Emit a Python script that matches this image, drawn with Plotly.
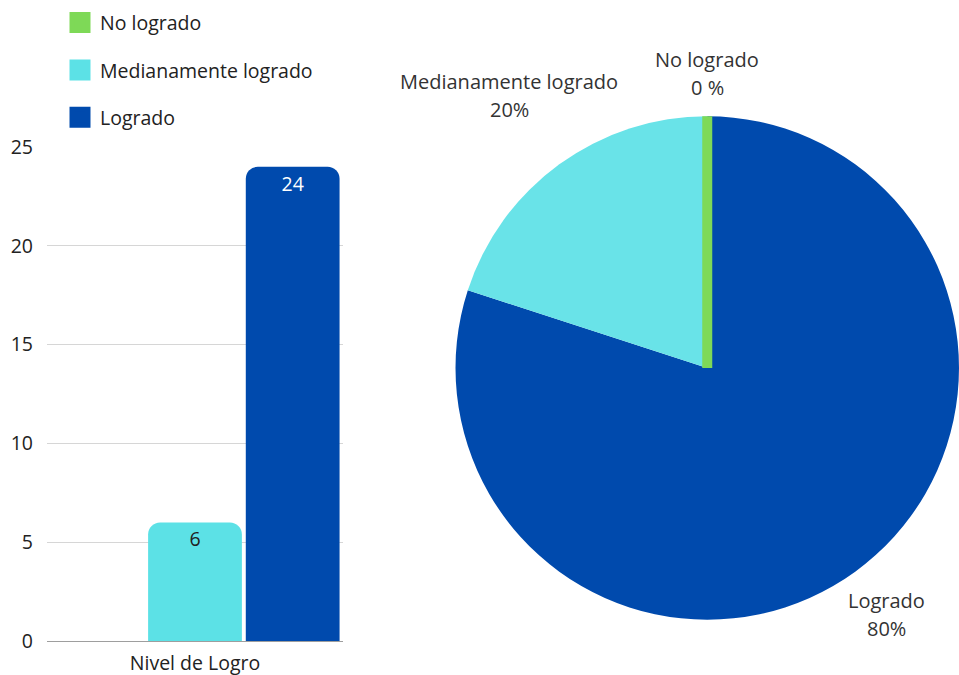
import math
import plotly.graph_objects as go

categories = ["No logrado", "Medianamente logrado", "Logrado"]
counts = [0, 6, 24]
pie_texts = ["0 %", "20%", "80%"]
group_label = ["Nivel de Logro"]
y_ticks = [0, 5, 10, 15, 20, 25]

bar_colors = ["#7ED957", "#5CE1E6", "#004AAD"]
pie_colors = ["#7ED957", "#69E3E8", "#004AAD"]
bar_text_colors = ["#222222", "#222222", "#FFFFFF"]

FONT = "Open Sans"
FS = 19.5
W, H = 959, 675

fig = go.Figure()

# visible rounded bars
for i, (cat, val) in enumerate(zip(categories, counts)):
    fig.add_trace(go.Bar(
        x=group_label, y=[val], name=cat,
        marker=dict(color=bar_colors[i], line=dict(width=0), cornerradius=12),
        offsetgroup=str(i), alignmentgroup="a",
        showlegend=False, hoverinfo="x+y+name",
    ))
# value labels (square-cornered transparent overlay so labels sit close to the top)
for i, (cat, val) in enumerate(zip(categories, counts)):
    fig.add_trace(go.Bar(
        x=group_label, y=[val], name=cat,
        marker=dict(color="rgba(0,0,0,0)", line=dict(width=0), cornerradius=0),
        offsetgroup=str(i), alignmentgroup="a",
        text=[str(val) if val > 0 else ""],
        textposition="inside", insidetextanchor="end",
        textfont=dict(family=FONT, size=FS, color=bar_text_colors[i]),
        showlegend=False, hoverinfo="skip",
    ))
# legend entries
for i, cat in enumerate(categories):
    fig.add_trace(go.Scatter(
        x=[None], y=[None], mode="markers", name=cat, legendgroup=cat,
        marker=dict(symbol="square", size=16, color=bar_colors[i],
                    line=dict(color=bar_colors[i], width=5)),
    ))

# pie: clockwise from 12 o'clock, Logrado first, zero slice last (drawn on top)
order = [2, 1, 0]
pie_x = [455.5 / W, 1.0]
pie_y = [(H - 620) / H, (H - 116) / H]
fig.add_trace(go.Pie(
    labels=[categories[k] for k in order],
    values=[counts[k] for k in order],
    textinfo="none",
    marker=dict(colors=[pie_colors[k] for k in order],
                line=dict(color=[pie_colors[k] for k in order],
                          width=[0, 0, 10])),
    sort=False, direction="clockwise", rotation=0,
    showlegend=False,
    domain=dict(x=pie_x, y=pie_y),
))

# outside labels for the pie, placed along each slice's mid angle
pw = (pie_x[1] - pie_x[0]) * W
ph = (pie_y[1] - pie_y[0]) * H
r = min(pw, ph) / 2
cx = pie_x[0] * W + pw / 2
cy = H - (pie_y[0] * H + ph / 2)
total = sum(counts)
cum = 0
for k in order:
    v = counts[k]
    theta = 2 * math.pi * (cum + v / 2) / total
    cum += v
    dx, dy = math.sin(theta), -math.cos(theta)
    hw = max(len(categories[k]), len(pie_texts[k])) * 8.4 / 2
    hh = 39
    dist = r + 4 + abs(dx) * hw + abs(dy) * hh
    px, py = cx + dist * dx, cy + dist * dy
    for txt, shift in ((categories[k], 14), (pie_texts[k], -14)):
        fig.add_annotation(
            x=px / W, y=1 - py / H, xref="paper", yref="paper",
            text=txt, showarrow=False, xanchor="center", yanchor="middle",
            yshift=shift, font=dict(family=FONT, size=20, color="#333333"),
        )

fig.update_layout(
    width=W, height=H,
    margin=dict(l=0, r=0, t=0, b=0, autoexpand=False),
    paper_bgcolor="white", plot_bgcolor="white",
    font=dict(family=FONT, size=FS, color="#222222"),
    barmode="group", bargap=0.01, bargroupgap=0.04,
    showlegend=True,
    legend=dict(x=60 / W, y=0.995, xanchor="left", yanchor="top",
                traceorder="grouped", tracegroupgap=19,
                font=dict(family=FONT, size=FS, color="#222222"),
                bgcolor="rgba(0,0,0,0)"),
    xaxis=dict(domain=[47 / W, 343 / W], showgrid=False, showline=False,
               ticks="", ticklabelstandoff=8, automargin=False,
               tickfont=dict(family=FONT, size=FS, color="#222222")),
    yaxis=dict(domain=[(H - 641) / H, (H - 147) / H], range=[0, 25],
               tickvals=y_ticks, showgrid=True, gridcolor="#d6d6d6", gridwidth=1,
               zeroline=True, zerolinecolor="#9e9e9e", zerolinewidth=1,
               showline=False, ticks="", ticklabelstandoff=13, automargin=False,
               tickfont=dict(family=FONT, size=FS, color="#222222")),
)

post = (
    "document.body.style.margin='0';document.body.style.padding='0';"
    "var s=document.createElement('style');"
    "s.textContent='.pielayer path.surface{stroke-linejoin:miter !important;}';"
    "document.head.appendChild(s);"
)
fig.write_html("out.html", post_script=post, config={"displayModeBar": False})
